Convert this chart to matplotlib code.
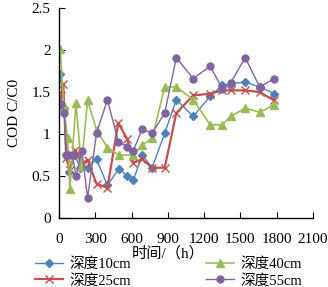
import matplotlib
matplotlib.use("Agg")
import matplotlib.pyplot as plt

plt.rcParams['font.family'] = ['Liberation Serif', 'Noto Sans CJK SC']

t10 = [10, 40, 85, 130, 175, 236, 310, 400, 496, 565, 614, 688, 770, 874, 970, 1110, 1250, 1350, 1420, 1540, 1660, 1780]
v10 = [1.72, 1.31, 0.55, 0.75, 0.60, 0.60, 0.70, 0.39, 0.59, 0.50, 0.45, 0.75, 0.60, 1.01, 1.41, 1.21, 1.45, 1.58, 1.60, 1.62, 1.56, 1.48]

t25 = [3, 35, 60, 90, 130, 190, 236, 310, 400, 490, 565, 614, 688, 770, 874, 970, 1110, 1250, 1350, 1420, 1540, 1660, 1780]
v25 = [1.32, 1.60, 0.71, 0.57, 0.81, 0.65, 0.69, 0.41, 0.36, 1.13, 0.94, 0.66, 0.70, 0.60, 0.60, 1.25, 1.46, 1.48, 1.52, 1.52, 1.52, 1.50, 1.40]

t40 = [10, 40, 70, 90, 140, 185, 236, 310, 400, 496, 614, 688, 770, 874, 970, 1110, 1250, 1350, 1420, 1540, 1660, 1780]
v40 = [2.01, 1.33, 0.95, 0.35, 1.37, 0.62, 1.40, 1.05, 0.84, 0.75, 0.75, 0.87, 0.95, 1.56, 1.56, 1.41, 1.11, 1.11, 1.21, 1.31, 1.26, 1.35]

t55 = [16, 44, 58, 85, 112, 140, 189, 236, 310, 400, 490, 565, 614, 688, 770, 874, 970, 1110, 1250, 1350, 1420, 1540, 1660, 1780]
v55 = [1.36, 1.25, 0.75, 0.75, 0.75, 0.50, 0.80, 0.24, 1.01, 1.41, 0.91, 0.85, 0.80, 1.06, 1.01, 1.25, 1.91, 1.66, 1.81, 1.54, 1.61, 1.91, 1.56, 1.66]

labels = ['深度10cm', '深度25cm', '深度40cm', '深度55cm']
xticks = [0, 300, 600, 900, 1200, 1500, 1800, 2100]
yticks = [0, 0.5, 1, 1.5, 2, 2.5]
yticklabels = ['0', '0.5', '1', '1.5', '2', '2.5']

fig = plt.figure(figsize=(3.28, 2.87), dpi=100)
ax = fig.add_axes([0.18, 0.240, 0.774, 0.732])

styles = [
    dict(color='#4F81BD', marker='D', ms=4, lw=1.0),
    dict(color='#C0504D', marker='x', ms=6, lw=1.6, mew=1.0),
    dict(color='#9BBB59', marker='^', ms=6, lw=1.2),
    dict(color='#8064A2', marker='o', ms=5, lw=1.0),
]
series = [(t10, v10), (t25, v25), (t40, v40), (t55, v55)]
handles = []
for (t, v), st, lab in zip(series, styles, labels):
    h, = ax.plot(t, v, label=lab, **st)
    handles.append(h)

ax.set_xlim(0, 2100)
ax.set_ylim(0, 2.5)
ax.set_xticks(xticks)
ax.set_yticks(yticks)
ax.set_yticklabels(yticklabels)
ax.spines['top'].set_visible(False)
ax.spines['right'].set_visible(False)
ax.spines['left'].set_linewidth(1.0)
ax.spines['bottom'].set_linewidth(1.0)
ax.tick_params(axis='both', direction='in', length=4, labelsize=11)
ax.tick_params(axis='x', pad=11)
ax.tick_params(axis='y', pad=6)

ax.set_ylabel('COD C/C0', fontsize=11, labelpad=8)
fig.text(0.512, 0.118, '时间/（h）', ha='center', va='center', fontsize=11)

leg = fig.legend(handles, labels, loc='lower left', bbox_to_anchor=(0.09, -0.022),
                 ncol=2, frameon=False, fontsize=10.5, handlelength=1.9,
                 columnspacing=5.2, handletextpad=0.4, labelspacing=0.18,
                 borderaxespad=0)

fig.savefig('out.png', dpi=100)
